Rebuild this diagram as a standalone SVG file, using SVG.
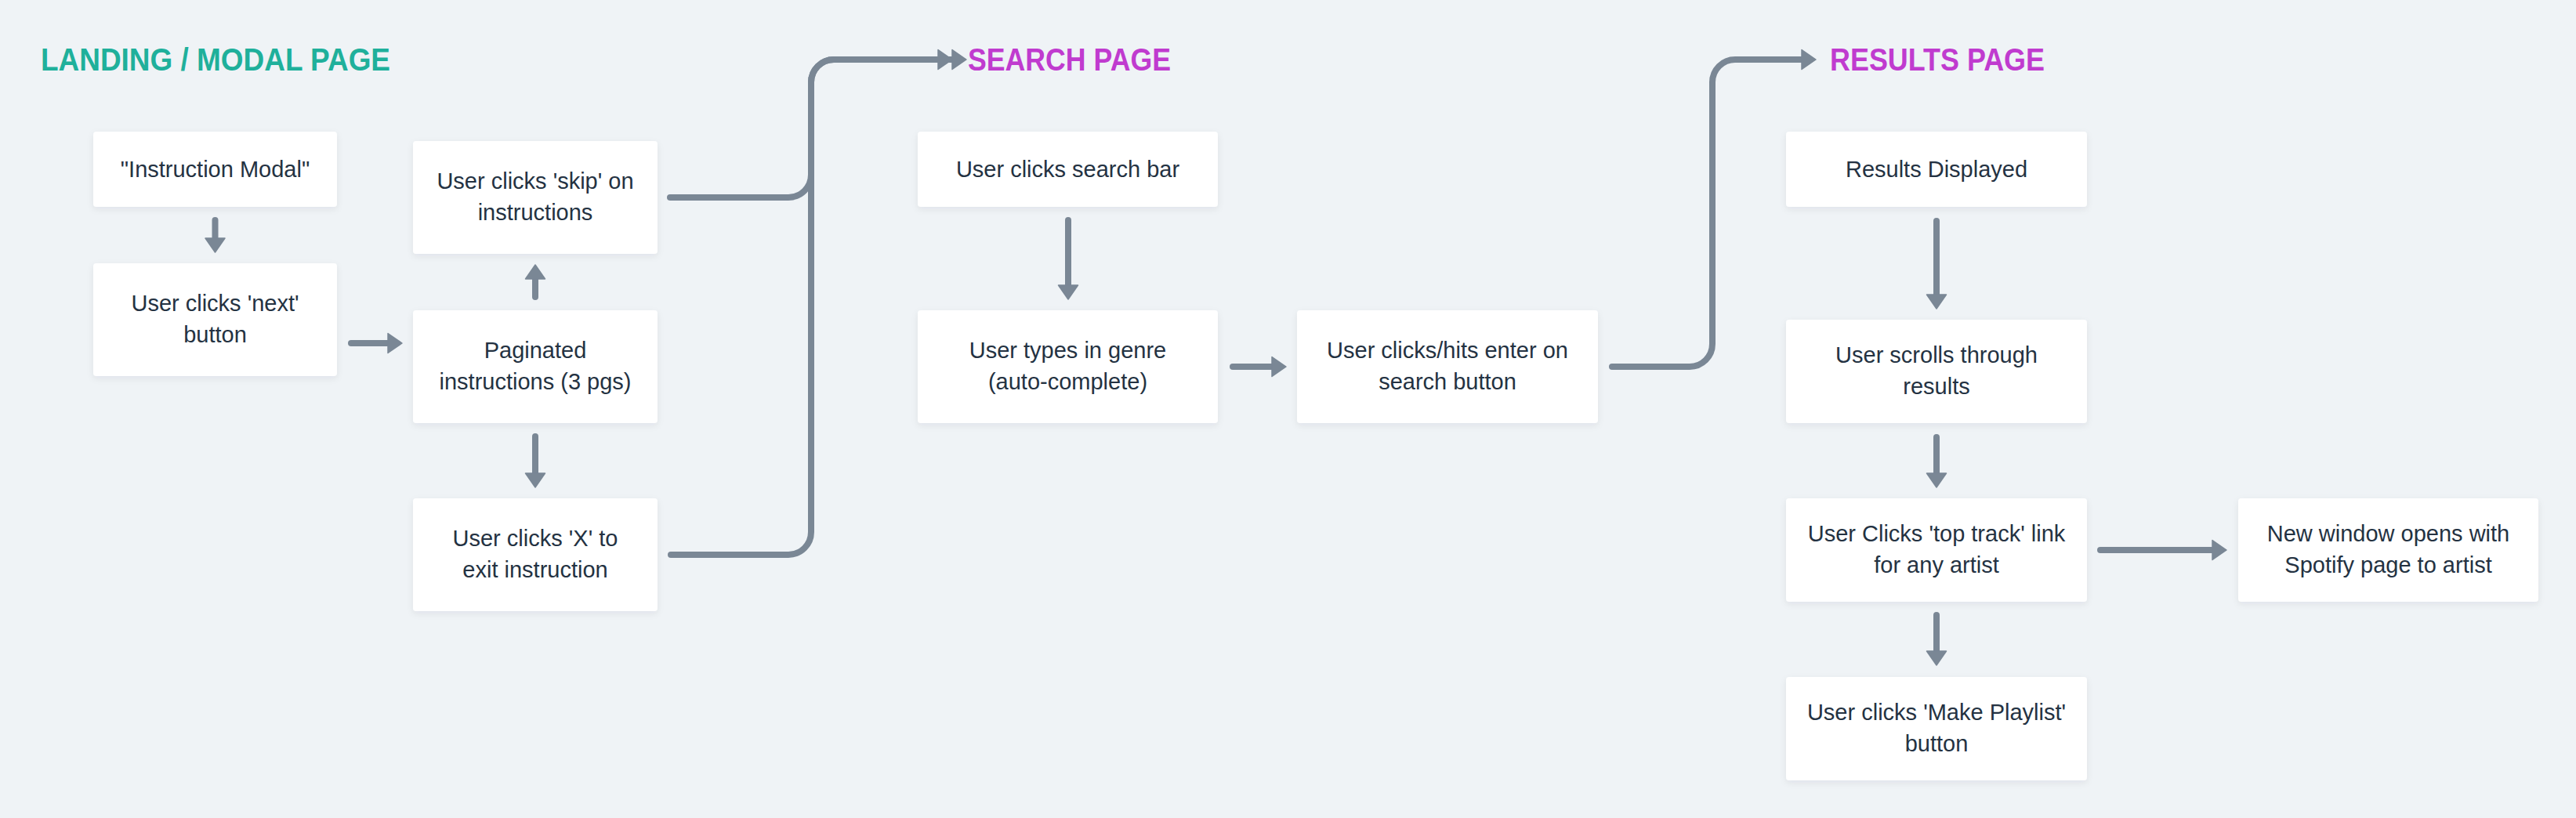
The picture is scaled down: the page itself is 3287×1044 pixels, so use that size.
<svg xmlns="http://www.w3.org/2000/svg" width="3287" height="1044" viewBox="0 0 3287 1044">
<style>
.bg{fill:#eff3f6}
.box{fill:#ffffff;filter:url(#sh)}
.t{font-family:"Liberation Sans",Arial,sans-serif;font-size:29px;fill:#243242;text-anchor:middle}
.h{font-family:"Liberation Sans",Arial,sans-serif;font-size:41px;font-weight:bold}
.teal{fill:#1fb09b}
.mag{fill:#c03bcf}
.c{fill:none;stroke:#7a8795;stroke-width:8;stroke-linecap:round;stroke-linejoin:round;marker-end:url(#ah)}
</style>
<defs>
<filter id="sh" x="-10%" y="-20%" width="120%" height="150%">
<feDropShadow dx="0" dy="3" stdDeviation="4" flood-color="#1c2a3a" flood-opacity="0.07"/>
</filter>
<marker id="ah" viewBox="0 0 20 28" markerWidth="20" markerHeight="28" markerUnits="userSpaceOnUse" refX="2" refY="14" orient="auto">
<path d="M1,1.5 L19,14 L1,26.5 Z" fill="#7a8795" stroke="#7a8795" stroke-width="1.5" stroke-linejoin="round"/>
</marker>
</defs>
<rect class="bg" x="0" y="0" width="3287" height="1044"/>

<g id="titles">
<text class="h teal" x="52" y="90" textLength="446" lengthAdjust="spacingAndGlyphs">LANDING / MODAL PAGE</text>
<text class="h mag" x="1235" y="90" textLength="259" lengthAdjust="spacingAndGlyphs">SEARCH PAGE</text>
<text class="h mag" x="2335" y="90" textLength="274" lengthAdjust="spacingAndGlyphs">RESULTS PAGE</text>
</g>

<g id="connectors">
<path class="c" d="M274.5,281 V305"/>
<path class="c" d="M448,438 H496"/>
<path class="c" d="M683,379 V355"/>
<path class="c" d="M683,557 V605"/>
<path class="c" d="M855,252 H1006 A29,29 0 0 0 1035,223 V105 A29,29 0 0 1 1064,76 H1198"/>
<path class="c" d="M856,708 H1006 A29,29 0 0 0 1035,679 V105 A29,29 0 0 1 1064,76 H1216"/>
<path class="c" d="M1363,281 V365"/>
<path class="c" d="M1573,468 H1624"/>
<path class="c" d="M2057,468 H2156 A29,29 0 0 0 2185,439 V105 A29,29 0 0 1 2214,76 H2300"/>
<path class="c" d="M2471,282 V377"/>
<path class="c" d="M2471,558 V605"/>
<path class="c" d="M2680,702 H2824"/>
<path class="c" d="M2471,785 V832"/>
</g>

<g id="n-instruction-modal">
<rect class="box" x="119" y="168" width="311" height="96" rx="4"/>
<text class="t" x="274.5" y="226">"Instruction Modal"</text>
</g>
<g id="n-next">
<rect class="box" x="119" y="336" width="311" height="144" rx="4"/>
<text class="t" x="274.5" y="397">User clicks 'next'</text>
<text class="t" x="274.5" y="437">button</text>
</g>
<g id="n-skip">
<rect class="box" x="527" y="180" width="312" height="144" rx="4"/>
<text class="t" x="683" y="241">User clicks 'skip' on</text>
<text class="t" x="683" y="281">instructions</text>
</g>
<g id="n-paginated">
<rect class="box" x="527" y="396" width="312" height="144" rx="4"/>
<text class="t" x="683" y="457">Paginated</text>
<text class="t" x="683" y="497">instructions (3 pgs)</text>
</g>
<g id="n-exit">
<rect class="box" x="527" y="636" width="312" height="144" rx="4"/>
<text class="t" x="683" y="697">User clicks 'X' to</text>
<text class="t" x="683" y="737">exit instruction</text>
</g>
<g id="n-search-bar">
<rect class="box" x="1171" y="168" width="383" height="96" rx="4"/>
<text class="t" x="1362.5" y="226">User clicks search bar</text>
</g>
<g id="n-genre">
<rect class="box" x="1171" y="396" width="383" height="144" rx="4"/>
<text class="t" x="1362.5" y="457">User types in genre</text>
<text class="t" x="1362.5" y="497">(auto-complete)</text>
</g>
<g id="n-enter">
<rect class="box" x="1655" y="396" width="384" height="144" rx="4"/>
<text class="t" x="1847" y="457">User clicks/hits enter on</text>
<text class="t" x="1847" y="497">search button</text>
</g>
<g id="n-results">
<rect class="box" x="2279" y="168" width="384" height="96" rx="4"/>
<text class="t" x="2471" y="226">Results Displayed</text>
</g>
<g id="n-scrolls">
<rect class="box" x="2279" y="408" width="384" height="132" rx="4"/>
<text class="t" x="2471" y="463">User scrolls through</text>
<text class="t" x="2471" y="503">results</text>
</g>
<g id="n-top-track">
<rect class="box" x="2279" y="636" width="384" height="132" rx="4"/>
<text class="t" x="2471" y="691">User Clicks 'top track' link</text>
<text class="t" x="2471" y="731">for any artist</text>
</g>
<g id="n-new-window">
<rect class="box" x="2856" y="636" width="383" height="132" rx="4"/>
<text class="t" x="3047.5" y="691">New window opens with</text>
<text class="t" x="3047.5" y="731">Spotify page to artist</text>
</g>
<g id="n-playlist">
<rect class="box" x="2279" y="864" width="384" height="132" rx="4"/>
<text class="t" x="2471" y="919">User clicks 'Make Playlist'</text>
<text class="t" x="2471" y="959">button</text>
</g>
</svg>
